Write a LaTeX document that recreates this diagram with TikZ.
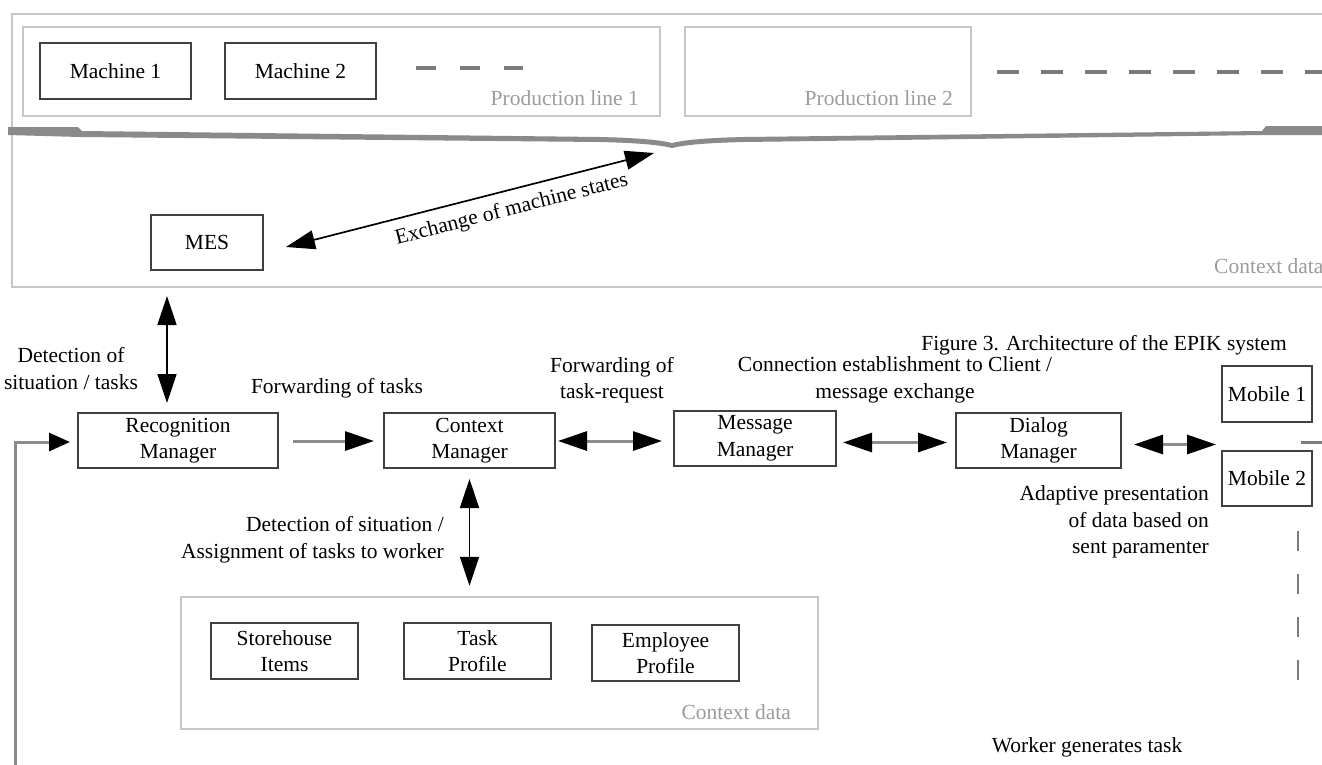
\documentclass[tikz,border=0pt]{standalone}
\usepackage{fontspec}
\setmainfont{Liberation Serif}
\usetikzlibrary{arrows.meta,calc}
\definecolor{boxline}{HTML}{404040}
\definecolor{contline}{HTML}{C6C6C6}
\definecolor{graytext}{HTML}{9C9C9C}
\definecolor{shaft}{HTML}{8C8C8C}
\definecolor{bracegray}{HTML}{8A8A8A}
\definecolor{dashgray}{HTML}{7C7C7C}
\tikzset{
  bigtip/.tip={Triangle[length=29pt 0,width=19pt 0,color=black,fill=black]},
  smalltip/.tip={Triangle[length=21pt 0,width=18pt 0,color=black,fill=black]},
  box/.style={draw=boxline,line width=2pt,align=center,inner sep=0pt},
  cont/.style={draw=contline,line width=2.4pt,inner sep=0pt},
  lbl/.style={inner sep=0pt,align=center},
  glbl/.style={text=graytext,inner sep=0pt},
  blk/.style={draw=black,line width=1.7pt},
  gry/.style={draw=shaft,line width=3pt},
  dsh/.style={draw=dashgray,line width=3.5pt},
}
\begin{document}
\begin{tikzpicture}[x=1pt,y=-1pt,font=\fontsize{21.5pt}{26.5pt}\selectfont]
\useasboundingbox (0,0) rectangle (1322,764);
\clip (0,0) rectangle (1322,764);
\fill[white] (0,0) rectangle (1322,764);

% production area with context data of the machines
\node[cont,minimum width=1328pt,minimum height=273pt] (top) at (676,150.5) {};
\node[cont,minimum width=637pt,minimum height=89pt] (pl1) at (341.5,71.5) {};
\node[cont,minimum width=286pt,minimum height=89pt] (pl2) at (828,71.5) {};
\node[glbl,anchor=base east] (pl1t) at (639,105) {Production line 1};
\node[glbl,anchor=base east] (pl2t) at (953,105) {Production line 2};
\node[glbl,anchor=base west] (topt) at (1214,273) {Context data};

\node[box,minimum width=151pt,minimum height=56pt] (m1) at (115.5,71) {Machine 1};
\node[box,minimum width=151pt,minimum height=56pt] (m2) at (300.5,71) {Machine 2};
\draw[dsh,line width=4pt,dash pattern=on 20pt off 24pt] ($(m2.east)+(39,-3)$) -- +(107,0);
\draw[dsh,line width=4pt,dash pattern=on 22pt off 22pt] ($(pl2.east)+(25,0.5)$) -- +(360,0);

% curly brace under the production lines
\coordinate (bt) at (672,143);
\fill[bracegray] (8,127) -- (78,127) -- (82,131) -- (600,137)
  .. controls (640,138) and (660,140) .. (bt)
  .. controls (684,140) and (704,138) .. (744,137) -- (1262,131) -- (1266,126)
  -- (1330,126) -- (1330,135) -- (1264,135) -- (744,142)
  .. controls (704,143) and (684,145) .. (672,148)
  .. controls (660,145) and (640,143) .. (600,142) -- (80,137) -- (8,135) -- cycle;

\node[box,minimum width=112pt,minimum height=55pt] (mes) at (207,242.5) {MES};
\draw[blk,{bigtip}-{bigtip}] ($(mes.east)+(22,4.5)$) -- ($(bt)+(-18,10)$)
  node[pos=0.6,sloped,below=9pt,inner sep=0pt] (exl) {Exchange of machine states};

% manager chain
\node[box,minimum width=200pt,minimum height=55pt] (rec) at (178,440.5) {Recognition\\Manager};
\node[box,minimum width=171pt,minimum height=55pt] (ctx) at (469.5,440.5) {Context\\Manager};
\node[box,minimum width=162pt,minimum height=55pt] (msg) at (755,438.5) {Message\\Manager};
\node[box,minimum width=165pt,minimum height=55pt] (dlg) at (1038.5,440.5) {Dialog\\Manager};
\node[box,minimum width=90pt,minimum height=56pt] (mob1) at (1267,394) {Mobile 1};
\node[box,minimum width=90pt,minimum height=55pt] (mob2) at (1267,478.5) {Mobile 2};

\draw[blk,{bigtip}-{bigtip}] ($(mes.south)+(-40,25)$) -- ($(rec.north)+(-11,-9)$);
\draw[gry,-{bigtip}] ($(rec.east)+(14,0.5)$) -- ($(ctx.west)+(-9,0.5)$);
\draw[gry,{bigtip}-{bigtip}] ($(ctx.east)+(2,0.5)$) -- ($(msg.west |- ctx.east)+(-11,0.5)$);
\draw[gry,{bigtip}-{bigtip}] ($(msg.east |- dlg.east)+(6,2)$) -- ($(dlg.west)+(-8,2)$);
\draw[gry,{bigtip}-{bigtip}] ($(dlg.east)+(12,4)$) -- ($(mob1.west |- dlg.east)+(-5,4)$);
\draw[gry,-{smalltip}] ($(rec.west)+(-62,330)$) |- ($(rec.west)+(-7,1.5)$);
\draw[dsh,line width=3pt] ($(mob1.south east)+(-12,19)$) -- +(30,0);
\draw[dsh,line width=2.6pt,dash pattern=on 20pt off 23pt] ($(mob2.south east)+(-15,24)$) -- +(0,150);

% context data of the workers
\node[cont,minimum width=637pt,minimum height=132pt] (cd) at (499.5,663) {};
\node[glbl,anchor=base east] (cdt) at (791,719) {Context data};
\node[box,minimum width=147pt,minimum height=56pt] (store) at (284.5,651) {Storehouse\\Items};
\node[box,minimum width=147pt,minimum height=56pt] (task) at (477.5,651) {Task\\Profile};
\node[box,minimum width=147pt,minimum height=56pt] (emp) at (665.5,653) {Employee\\Profile};
\draw[blk,{bigtip}-{bigtip}] ($(ctx.south)+(0,10)$) -- ($(cd.north -| ctx.south)+(0,-10)$);

% labels
\node[lbl] (l1) at (71,368.5) {Detection of\\situation / tasks};
\node[lbl] (l2) at (337,388) {Forwarding of tasks};
\node[lbl] (l3) at (612,380) {Forwarding of\\task-request};
\node[lbl] (l4) at (895,380) {Connection establishment to Client /\\message exchange};
\node[lbl] (cap) at (1104,345) {Figure 3. Architecture of the EPIK system};
\node[lbl,align=right,anchor=east] (l5) at (1209,522) {Adaptive presentation\\of data based on\\sent paramenter};
\node[lbl,align=right,anchor=east] (l6) at (444,539.5) {Detection of situation /\\Assignment of tasks to worker};
\node[lbl] (l7) at (1087,747) {Worker generates task};
\end{tikzpicture}
\end{document}
